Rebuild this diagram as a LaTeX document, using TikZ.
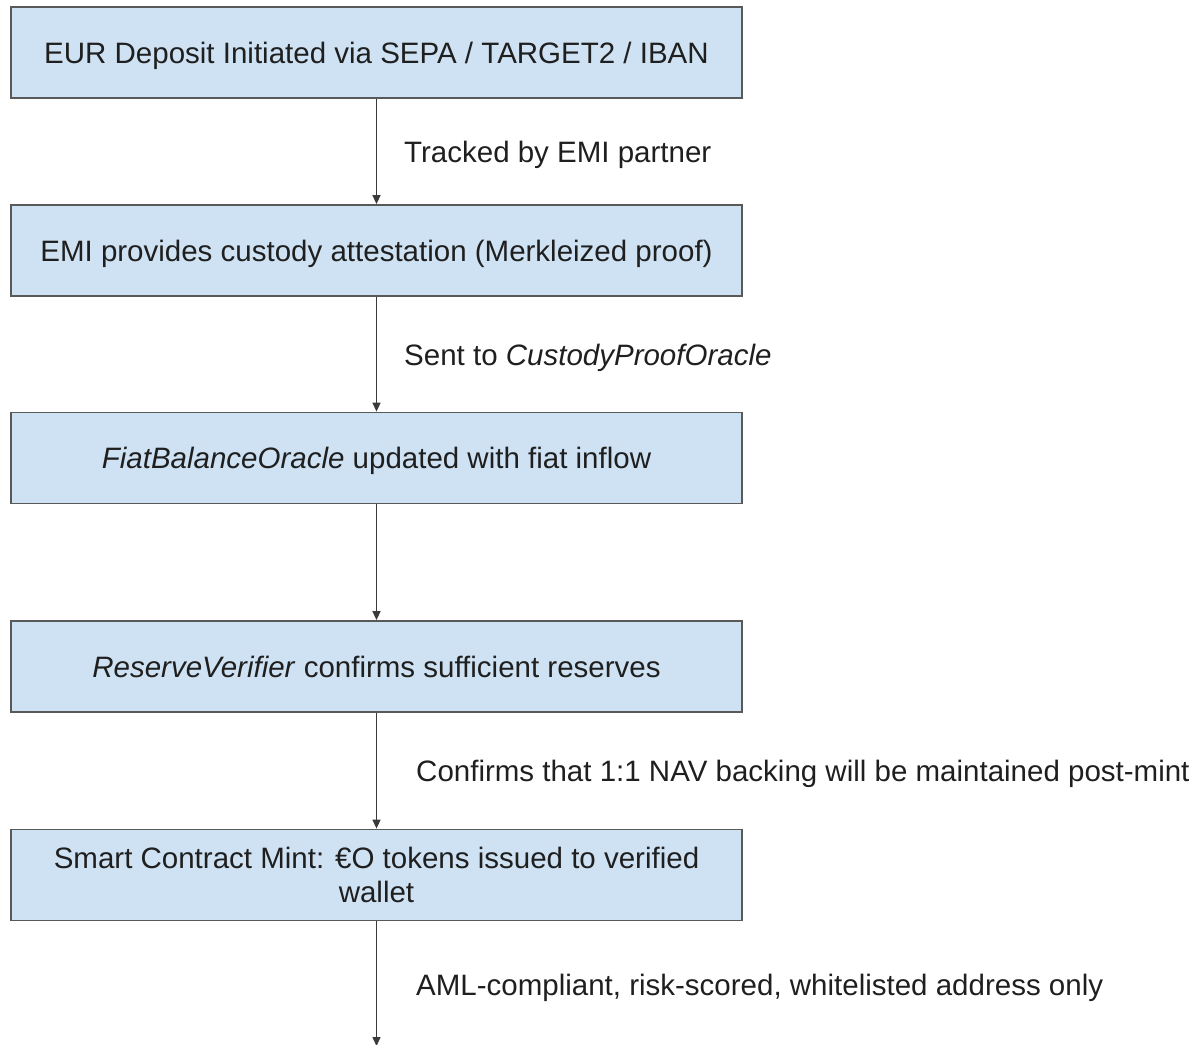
\documentclass[tikz,border=0pt]{standalone}
\usepackage{fontspec}
\setmainfont{Liberation Sans}
\usetikzlibrary{arrows.meta}
\definecolor{boxfill}{HTML}{CFE2F3}
\definecolor{boxline}{HTML}{595959}
\definecolor{txt}{HTML}{1F1F1F}
\definecolor{conn}{HTML}{3A3A3A}
\begin{document}
\begin{tikzpicture}[x=1pt,y=-1pt,
  flowbox/.style={draw=boxline,line width=1.8pt,fill=boxfill,minimum width=731pt,minimum height=91pt,inner sep=0pt,align=center,text=txt,font=\fontsize{29.5}{34}\selectfont},
  oneline/.style={text height=21pt,text depth=0pt},
  lbl/.style={anchor=west,inner sep=0pt,text height=21pt,text depth=0pt,text=txt,font=\fontsize{29.5}{34}\selectfont},
  conn/.style={draw=conn,line width=1.4pt,-{Triangle[length=9pt,width=8pt]}}]
\useasboundingbox (0,0) rectangle (1196,1044);
\node[flowbox,oneline] (b1) at (376.5,52.5) {EUR Deposit Initiated via SEPA / TARGET2 / IBAN};
\node[flowbox,oneline] (b2) at (376.5,250.5) {EMI provides custody attestation (Merkleized proof)};
\node[flowbox,oneline] (b3) at (376.5,458) {\textit{FiatBalanceOracle} updated with fiat inflow};
\node[flowbox,oneline] (b4) at (376.5,666.5) {\textit{ReserveVerifier} confirms sufficient reserves};
\node[flowbox] (b5) at (376.5,875) {Smart Contract Mint: €O tokens issued to verified\\wallet};
\coordinate (end) at (376.5,1046);
\draw[conn] (b1) -- (b2);
\draw[conn] (b2) -- (b3);
\draw[conn] (b3) -- (b4);
\draw[conn] (b4) -- (b5);
\draw[conn] (b5) -- (end);
\node[lbl] (l1) at (404,152) {Tracked by EMI partner};
\node[lbl] (l2) at (404,355) {Sent to \textit{CustodyProofOracle}};
\node[lbl] (l4) at (416,771) {Confirms that 1:1 NAV backing will be maintained post-mint};
\node[lbl] (l5) at (416,985) {AML-compliant, risk-scored, whitelisted address only};
\end{tikzpicture}
\end{document}
